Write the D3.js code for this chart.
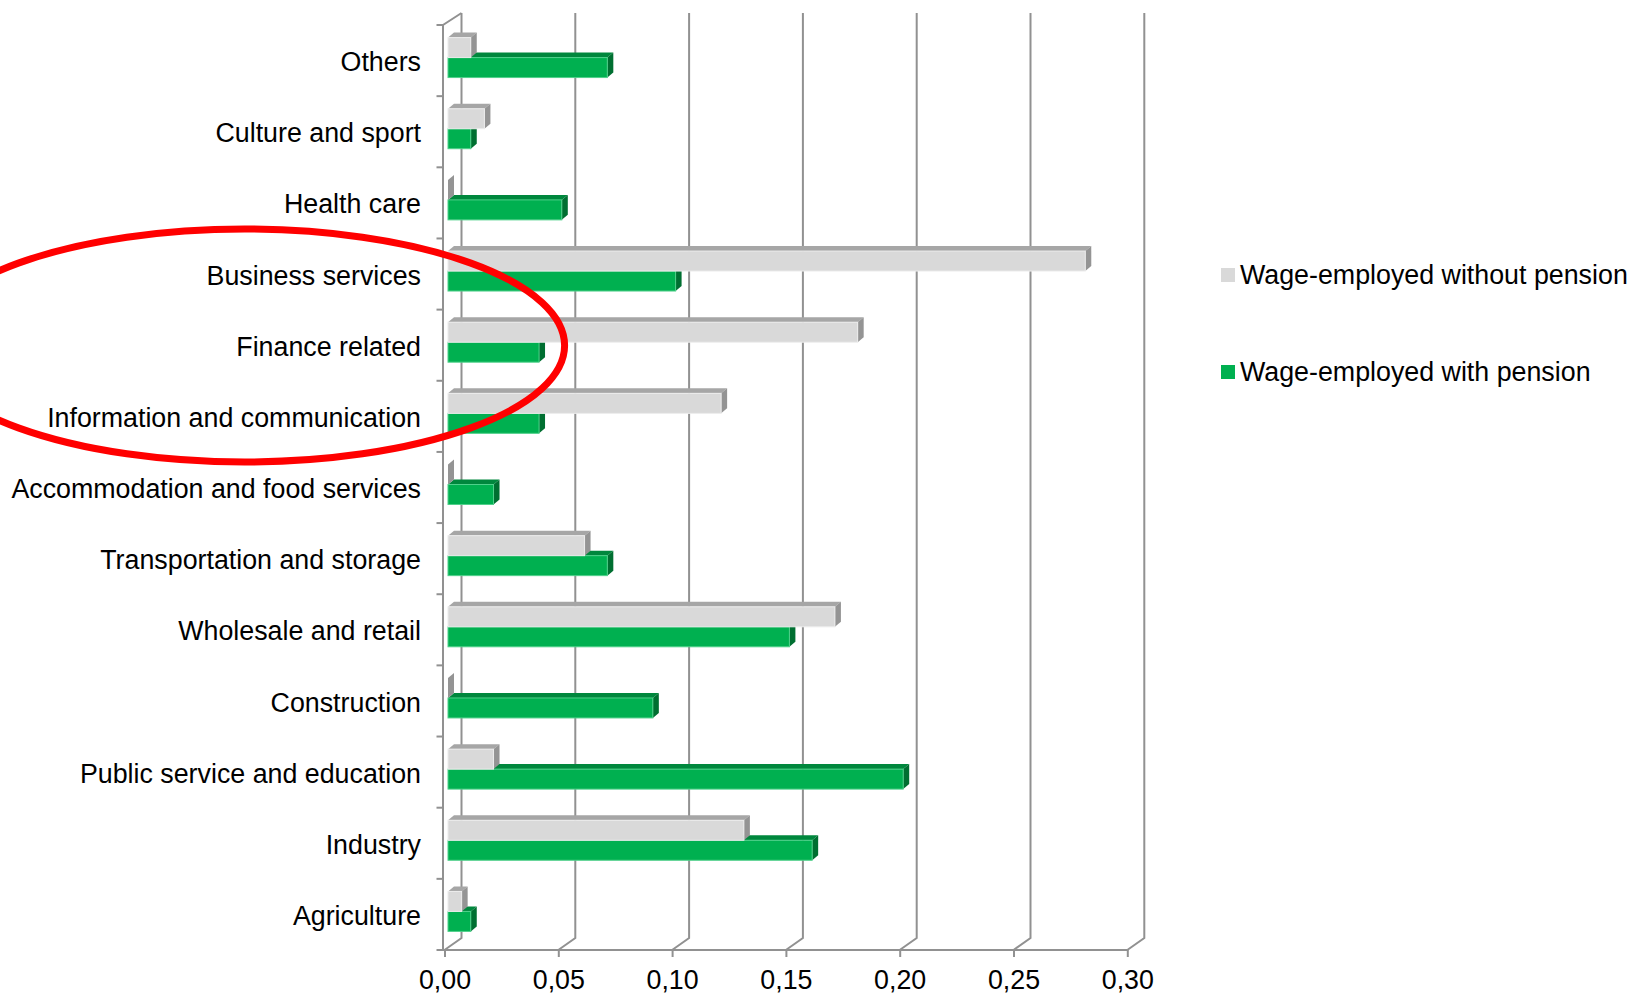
<!DOCTYPE html>
<html>
<head>
<meta charset="utf-8">
<script src="https://cdn.jsdelivr.net/npm/d3@7"></script>
<style>
  html, body { margin: 0; padding: 0; background: #ffffff; }
  svg { display: block; font-family: "Liberation Sans", Arial, sans-serif; }
</style>
</head>
<body>
<svg id="chart" width="1632" height="996"></svg>
<script>
const categories = [
  "Others",
  "Culture and sport",
  "Health care",
  "Business services",
  "Finance related",
  "Information and communication",
  "Accommodation and food services",
  "Transportation and storage",
  "Wholesale and retail",
  "Construction",
  "Public service and education",
  "Industry",
  "Agriculture"
];
const withoutPension = [0.010, 0.016, 0.000, 0.280, 0.180, 0.120, 0.000, 0.060, 0.170, 0.000, 0.020, 0.130, 0.006];
const withPension    = [0.070, 0.010, 0.050, 0.100, 0.040, 0.040, 0.020, 0.070, 0.150, 0.090, 0.200, 0.160, 0.010];
const seriesNames = ["Wage-employed without pension", "Wage-employed with pension"];
const xTicks = [0, 0.05, 0.10, 0.15, 0.20, 0.25, 0.30];

const svg = d3.select("#chart");
const FONT = "26.8px";

// layout
const x0 = 444.5, x1 = 1127.3, yTop = 25, yBot = 950;
const wallDX = 17, wallDY = -12;   // depth of the back wall
const barDX = 6, barDY = -5;       // depth of each bar
const barOffX = 3.5, barOffY = -3; // bars placed slightly behind the front plane

const x = d3.scaleLinear().domain([0, 0.30]).range([x0, x1]);
const y = d3.scaleBand().domain(categories).range([yTop, yBot]).paddingInner(0).paddingOuter(0);
const ySub = d3.scaleBand().domain(seriesNames).range([0, y.bandwidth()]).paddingInner(0).paddingOuter(0.78);

const gridColor = "#919191";

// back gridlines with floor diagonals
const grid = svg.append("g");
xTicks.forEach(t => {
  const fx = x(t);
  grid.append("path")
    .attr("d", `M${fx + wallDX},${yTop + wallDY} L${fx + wallDX},${yBot + wallDY} L${fx},${yBot}`)
    .attr("fill", "none").attr("stroke", gridColor).attr("stroke-width", 2);
});
// left wall front edge, top diagonal and baseline
grid.append("path")
  .attr("d", `M${x0 + wallDX},${yTop + wallDY} L${x0 - 1.5},${yTop} L${x0 - 1.5},${yBot} L${x1},${yBot}`)
  .attr("fill", "none").attr("stroke", gridColor).attr("stroke-width", 2);
// category boundary ticks on the wall
d3.range(categories.length + 1).forEach(i => {
  const yy = yTop + i * y.step();
  grid.append("line")
    .attr("x1", x0 - 8).attr("x2", x0 - 1.5)
    .attr("y1", yy).attr("y2", yy)
    .attr("stroke", gridColor).attr("stroke-width", 2);
});

// x axis
const xAxis = d3.axisBottom(x)
  .tickValues(xTicks)
  .tickSize(7)
  .tickPadding(13)
  .tickFormat(d => d3.format(".2f")(d).replace(".", ","));
const gx = svg.append("g").attr("transform", `translate(0,${yBot})`).call(xAxis);
gx.select(".domain").remove();
gx.selectAll(".tick line").attr("stroke", gridColor).attr("stroke-width", 2);
gx.selectAll(".tick text").attr("fill", "#000").style("font-size", FONT)
  .style("font-family", "'Liberation Sans', Arial, sans-serif");

// y axis labels
const yAxis = d3.axisLeft(y).tickSize(0).tickPadding(22);
const gy = svg.append("g").attr("transform", `translate(${x0 - 1.5},2)`).call(yAxis);
gy.select(".domain").remove();
gy.selectAll(".tick text").attr("fill", "#000").style("font-size", FONT)
  .style("font-family", "'Liberation Sans', Arial, sans-serif");

// bars
const styles = {
  [seriesNames[0]]: { front: "#d9d9d9", top: "#a6a6a6", side: "#949494", edge: "#ececec" },
  [seriesNames[1]]: { front: "#00b050", top: "#00873d", side: "#006f31", edge: "#4fd08a" }
};

function drawBar(g, value, cat, series) {
  const st = styles[series];
  const bx0 = x(0) + barOffX;
  const bx1 = x(value) + barOffX;
  const by = y(cat) + ySub(series) + barOffY;
  const h = ySub.bandwidth();
  // top face
  g.append("path")
    .attr("d", `M${bx0},${by} L${bx0 + barDX},${by + barDY} L${bx1 + barDX},${by + barDY} L${bx1},${by} Z`)
    .attr("fill", st.top);
  // side face
  g.append("path")
    .attr("d", `M${bx1},${by} L${bx1 + barDX},${by + barDY} L${bx1 + barDX},${by + h + barDY} L${bx1},${by + h} Z`)
    .attr("fill", st.side);
  // front face
  if (bx1 - bx0 > 0.5) {
    g.append("rect")
      .attr("x", bx0).attr("y", by)
      .attr("width", bx1 - bx0).attr("height", h)
      .attr("fill", st.front)
      .attr("stroke", st.edge).attr("stroke-width", 1);
  }
}

const barsG = svg.append("g");
categories.forEach((cat, i) => {
  const g = barsG.append("g");
  drawBar(g, withPension[i], cat, seriesNames[1]);
  drawBar(g, withoutPension[i], cat, seriesNames[0]);
});

// legend
const legend = svg.append("g");
const legendY = [268, 365];
seriesNames.forEach((name, i) => {
  legend.append("rect")
    .attr("x", 1221).attr("y", legendY[i]).attr("width", 14).attr("height", 14)
    .attr("fill", styles[name].front);
  legend.append("text")
    .attr("x", 1240).attr("y", legendY[i] + 16)
    .attr("fill", "#000")
    .style("font-size", FONT)
    .text(name);
});

// red highlight ellipse
svg.append("ellipse")
  .attr("cx", 244.6).attr("cy", 345.5)
  .attr("rx", 320).attr("ry", 116.5)
  .attr("fill", "none")
  .attr("stroke", "#ff0000")
  .attr("stroke-width", 7);
</script>
</body>
</html>
